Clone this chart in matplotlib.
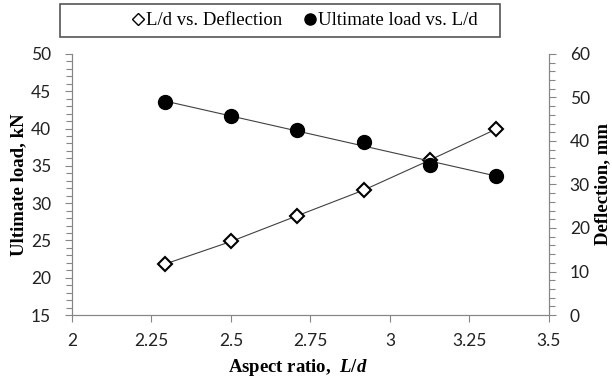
import numpy as np
import matplotlib
matplotlib.use("Agg")
import matplotlib.pyplot as plt
from matplotlib.ticker import MultipleLocator
from matplotlib.lines import Line2D
from matplotlib.patches import Rectangle

# aspect ratio L/d of the tested specimens
aspect_ratio = [2.292, 2.500, 2.708, 2.917, 3.125, 3.333]
# ultimate load, kN (left axis)
ultimate_load = [43.5, 41.7, 39.8, 38.2, 35.1, 33.7]
# mid-span deflection, mm (right axis)
deflection = [11.7, 16.9, 22.8, 28.7, 35.6, 42.7]

plt.rcParams["mathtext.fontset"] = "custom"
plt.rcParams["mathtext.rm"] = "Liberation Serif:bold"
plt.rcParams["mathtext.it"] = "Liberation Serif:bold:italic"

axis_grey = "#868686"
tick_font = {"family": "Lato", "size": 12.5}
label_font = {"family": "Liberation Serif", "weight": "bold", "size": 13.5}

fig = plt.figure(figsize=(6.12, 3.85), dpi=100)
ax = fig.add_axes([0.1176, 0.1818, 0.7794, 0.678])
ax2 = ax.twinx()

# deflection on the secondary axis, points joined by a line
ax2.plot(aspect_ratio, deflection, color="#404040", lw=0.8, zorder=1)
ax2.plot(aspect_ratio, deflection, ls="none", marker="D", ms=7.5,
         mfc="white", mec="black", mew=1.5, zorder=2)

# ultimate load with its linear trend line
coef = np.polyfit(aspect_ratio, ultimate_load, 1)
xs = np.array([aspect_ratio[0], aspect_ratio[-1]])
ax.plot(xs, np.polyval(coef, xs), color="#404040", lw=0.8, zorder=1)
ax.plot(aspect_ratio, ultimate_load, ls="none", marker="o", ms=10,
        mfc="black", mec="black", zorder=2)

# keep load markers above the deflection series
ax.set_zorder(ax2.get_zorder() + 1)
ax.patch.set_visible(False)

ax.set_xlim(2, 3.5)
ax.set_ylim(15, 50)
ax2.set_ylim(0, 60)
ax.yaxis.set_major_locator(MultipleLocator(5))
ax.yaxis.set_minor_locator(MultipleLocator(1))
ax2.yaxis.set_major_locator(MultipleLocator(10))
ax2.yaxis.set_minor_locator(MultipleLocator(2))
ax.set_xticks(np.arange(2, 3.51, 0.25))
ax.set_xticklabels(["2", "2.25", "2.5", "2.75", "3", "3.25", "3.5"])

for a in (ax, ax2):
    a.spines["top"].set_visible(False)
    for s in a.spines.values():
        s.set_color(axis_grey)
        s.set_linewidth(0.8)
    a.tick_params(which="both", direction="out", color=axis_grey, width=0.8,
                  labelcolor="#222222")
    a.tick_params(which="major", length=5, pad=10)
    a.tick_params(which="minor", length=4)
    for lab in a.get_xticklabels() + a.get_yticklabels():
        lab.set_fontfamily(tick_font["family"])
        lab.set_fontsize(tick_font["size"])
ax.tick_params(axis="x", pad=8)

ax.set_xlabel(r"Aspect ratio,  $L/d$", **label_font)
ax.set_ylabel("Ultimate load, kN", **label_font)
ax2.set_ylabel("Deflection, mm", **label_font)
ax.xaxis.set_label_coords(0.474, -0.16)
ax.yaxis.set_label_coords(-0.094, 0.5)
ax2.yaxis.set_label_coords(1.094, 0.5)

# legend box across the top, entries centred inside it
fig.patches.append(Rectangle((60 / 612, 1 - 37 / 385), 440 / 612, 33 / 385,
                             transform=fig.transFigure, fill=False,
                             edgecolor="#555555", lw=1.2))
handles = [
    Line2D([], [], ls="none", marker="D", ms=6, mfc="white", mec="black", mew=1.0),
    Line2D([], [], ls="none", marker="o", ms=8, mfc="black", mec="black"),
]
fig.legend(handles, ["L/d vs. Deflection", "Ultimate load vs. L/d"],
           loc="center", bbox_to_anchor=(305 / 612, 1 - 20.5 / 385),
           ncol=2, frameon=False, handlelength=0.6, handletextpad=0.1,
           borderaxespad=0, columnspacing=1.2, borderpad=0,
           prop={"family": "Liberation Serif", "size": 13.5})

fig.savefig("out.png", dpi=100)
